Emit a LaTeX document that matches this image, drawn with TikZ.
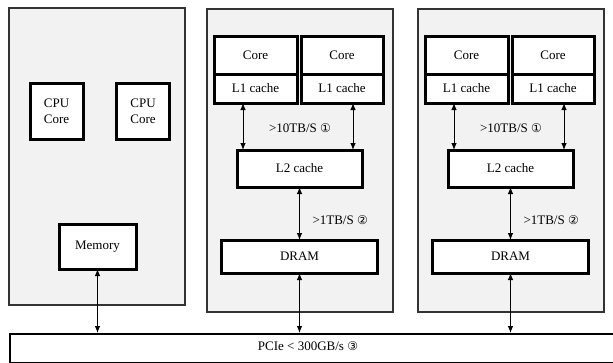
\documentclass[tikz,border=0pt]{standalone}
\usepackage{fontspec}
\setmainfont{Liberation Serif}
\newfontfamily\circfont{DejaVu Sans}
\usetikzlibrary{arrows.meta}
\definecolor{panelgray}{HTML}{F2F2F2}
\definecolor{edgegray}{HTML}{333333}
\tikzset{
  panel/.style={draw=edgegray, line width=2pt, fill=panelgray},
  unit/.style={draw=black, line width=3pt, fill=white, align=center, inner sep=0pt, outer sep=0pt},
  link/.style={{Latex[length=7pt,width=5.5pt]}-{Latex[length=7pt,width=5.5pt]}, line width=0.9pt},
}
\newcommand{\circnum}[1]{{\circfont\fontsize{12}{14}\selectfont #1}}
\begin{document}
\begin{tikzpicture}[x=1pt, y=-1pt, font=\fontsize{13}{16}\selectfont]
\clip (0,0) rectangle (613,362);
\fill[white] (0,0) rectangle (613,362);
% CPU
\draw[panel] (9,8) rectangle (185,305);
\node[unit, minimum width=53pt, minimum height=56pt] (cpua) at (56.5,111) {CPU\\Core};
\node[unit, minimum width=53pt, minimum height=56pt] (cpub) at (143,111) {CPU\\Core};
\node[unit, minimum width=77pt, minimum height=45pt] (mem) at (97.5,246.5) {Memory};
% bus
\node[draw=black, line width=1.6pt, fill=white, minimum width=620pt, minimum height=29pt, anchor=north west, inner sep=0pt] (bus) at (9,333) {};
\node (pcie) at (308,346) {PCIe < 300GB/s \circnum{③}};
\draw[link] (mem.south) -- (mem.south |- bus.north);
% GPUs
\foreach \dx/\g in {0/a, 211/b} {
  \begin{scope}[xshift=\dx pt]
  \draw[panel] (207,9) rectangle (393,312);
  \node[unit, minimum width=83pt, minimum height=38pt] (core1\g) at (255.5,55) {Core};
  \node[unit, minimum width=83pt, minimum height=29pt] (lone1\g) at (255.5,88.5) {L1 cache};
  \node[unit, minimum width=82pt, minimum height=38pt] (core2\g) at (342,55) {Core};
  \node[unit, minimum width=82pt, minimum height=29pt] (lone2\g) at (342,88.5) {L1 cache};
  \node[unit, minimum width=125pt, minimum height=37pt] (ltwo\g) at (299.5,168.5) {L2 cache};
  \node[unit, minimum width=156pt, minimum height=33pt] (dram\g) at (299.5,256.5) {DRAM};
  \draw[link] ([xshift=29pt]lone1\g.south west) -- ([xshift=29pt]lone1\g.south west |- ltwo\g.north);
  \draw[link] ([xshift=52pt]lone2\g.south west) -- ([xshift=52pt]lone2\g.south west |- ltwo\g.north);
  \node (bwone\g) at (300,128) {>10TB/S \circnum{①}};
  \draw[link] (ltwo\g.south) -- (dram\g.north);
  \node[anchor=west] (bwtwo\g) at (309,220) {>1TB/S \circnum{②}};
  \draw[link] (dram\g.south) -- (dram\g.south |- bus.north);
  \end{scope}
}
\end{tikzpicture}
\end{document}
